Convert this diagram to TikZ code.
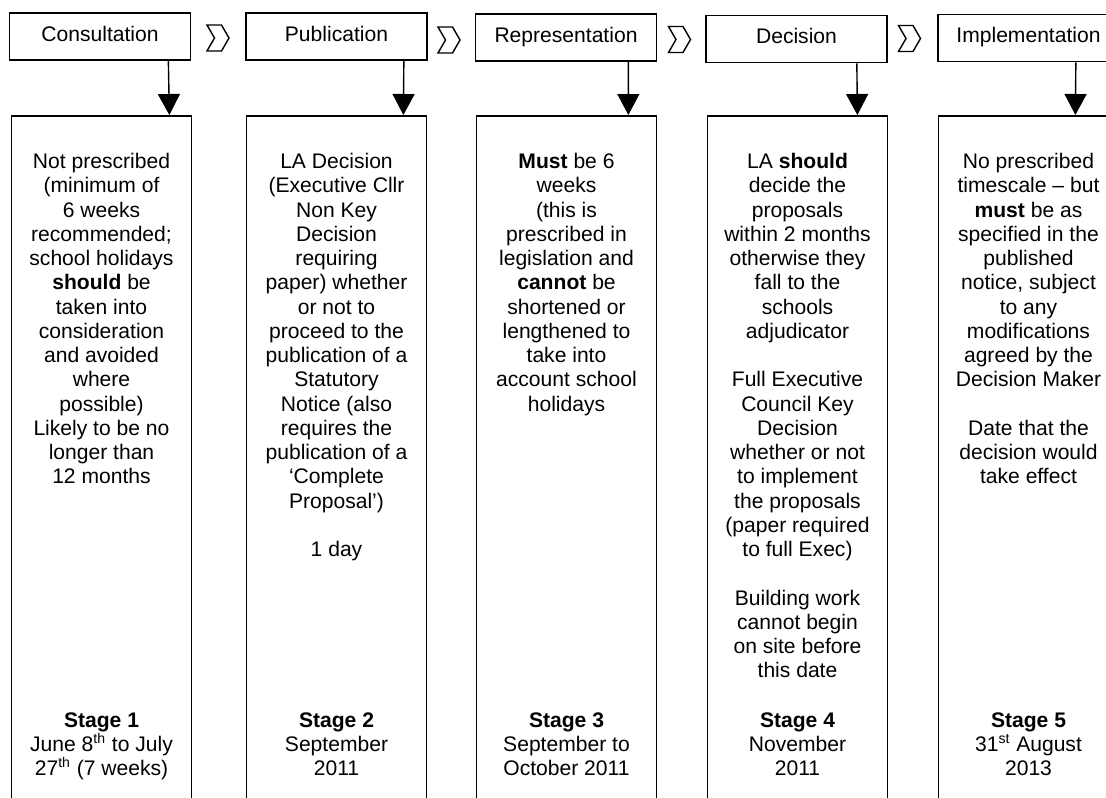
\documentclass[tikz,border=0pt]{standalone}
\usepackage{fontspec}
\setmainfont{Liberation Sans}
\usetikzlibrary{arrows.meta,calc,shapes.symbols}

\begin{document}
\begin{tikzpicture}[x=0.02cm,y=-0.02cm]
	\tikzset{
		head/.style={draw,line width=1pt,minimum width=3.62cm,minimum height=0.94cm,inner sep=0pt,text height=0.72em,text depth=0.2em,font=\fontsize{12}{13.8}\selectfont},
		column/.style={draw,line width=1pt,minimum width=3.6cm,minimum height=14cm,anchor=north},
		body/.style={anchor=north,align=center,inner sep=0pt,font=\fontsize{12}{13.8}\selectfont},
		chevron/.style={draw,line width=0.8pt,signal,signal from=west,signal to=east,signal pointer angle=120,minimum width=0.44cm,minimum height=0.52cm,inner sep=0pt},
		flow/.style={line width=0.8pt,-{Triangle[length=0.42cm,width=0.44cm]}}}
	\clip (0,0) rectangle (1106,798);
	% headers
	\node[head](h1) at (100,36.5){Consultation};
	\node[head](h2) at (336.5,36.5){Publication};
	\node[head](h3) at (566,37.5){Representation};
	\node[head](h4) at (796.5,39){Decision};
	\node[head](h5) at (1028.5,38){Implementation};
	\node[chevron](c1) at (218,38){};
	\node[chevron](c2) at (449,40){};
	\node[chevron](c3) at (679.5,39.5){};
	\node[chevron](c4) at (909.5,38.5){};
	% columns
	\node[column](b1) at (101.5,115){};
	\node[column](b2) at (336.5,115){};
	\node[column](b3) at (566.5,115){};
	\node[column](b4) at (797.5,115){};
	\node[column](b5) at (1028.5,115){};
	\foreach \i/\d in {1/23,2/24,3/29,4/31,5/44}
		\draw[flow]($(h\i.south east)+(-\d,0)$)--($(b\i.north east)+(-\d,0)$);
	% texts
	\node[body](t1) at ($(b1.north)+(0,38)$){Not prescribed\\(minimum of\\6 weeks\\recommended;\\school holidays\\\textbf{should} be\\taken into\\consideration\\and avoided\\where\\possible)\\Likely to be no\\longer than\\12 months};
	\node[body](t2) at ($(b2.north)+(0,38)$){LA Decision\\(Executive Cllr\\Non Key\\Decision\\requiring\\paper) whether\\or not to\\proceed to the\\publication of a\\Statutory\\Notice (also\\requires the\\publication of a\\‘Complete\\Proposal’)\\[13.8pt]1 day};
	\node[body](t3) at ($(b3.north)+(0,38)$){\textbf{Must} be 6\\weeks\\(this is\\prescribed in\\legislation and\\\textbf{cannot} be\\shortened or\\lengthened to\\take into\\account school\\holidays};
	\node[body](t4) at ($(b4.north)+(0,38)$){LA \textbf{should}\\decide the\\proposals\\within 2 months\\otherwise they\\fall to the\\schools\\adjudicator\\[13.8pt]Full Executive\\Council Key\\Decision\\whether or not\\to implement\\the proposals\\(paper required\\to full Exec)\\[13.8pt]Building work\\cannot begin\\on site before\\this date};
	\node[body](t5) at ($(b5.north)+(0,38)$){No prescribed\\timescale – but\\\textbf{must} be as\\specified in the\\published\\notice, subject\\to any\\modifications\\agreed by the\\Decision Maker\\[13.8pt]Date that the\\decision would\\take effect};
	% stages
	\node[body](s1) at ($(b1.north)+(0,597)$){\textbf{Stage 1}\\June 8\textsuperscript{th} to July\\27\textsuperscript{th} (7 weeks)};
	\node[body](s2) at ($(b2.north)+(0,597)$){\textbf{Stage 2}\\September\\2011};
	\node[body](s3) at ($(b3.north)+(0,597)$){\textbf{Stage 3}\\September to\\October 2011};
	\node[body](s4) at ($(b4.north)+(0,597)$){\textbf{Stage 4}\\November\\2011};
	\node[body](s5) at ($(b5.north)+(0,597)$){\textbf{Stage 5}\\31\textsuperscript{st} August\\2013};
\end{tikzpicture}
\end{document}
